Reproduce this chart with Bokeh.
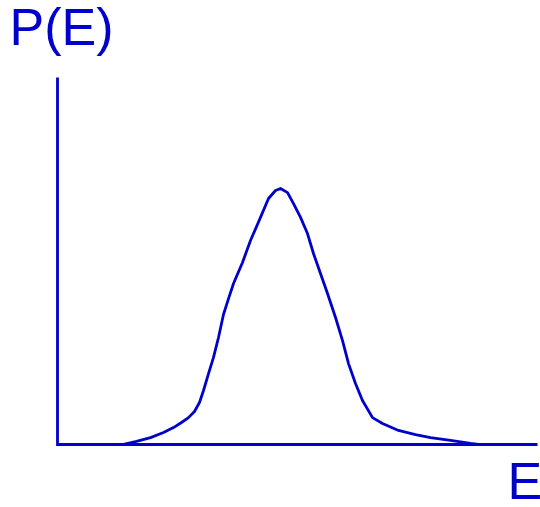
from bokeh.plotting import figure
from bokeh.models import Range1d
from bokeh.core.properties import value
from bokeh.embed import file_html
from bokeh.resources import INLINE

# Curve: energy E and probability P(E)
energy = [1.354, 1.646, 1.938, 2.208, 2.417, 2.583, 2.729, 2.854, 2.958, 3.042, 3.146, 3.25,
          3.354, 3.458, 3.563, 3.667, 3.854, 4.021, 4.229, 4.396, 4.542, 4.646, 4.792,
          4.917, 5.063, 5.208, 5.333, 5.479, 5.625, 5.792, 5.938, 6.063, 6.208, 6.354,
          6.563, 6.771, 7.104, 7.458, 7.771, 8.188, 8.604, 8.771]
prob = [0.0, 0.012, 0.027, 0.047, 0.066, 0.086, 0.105, 0.129, 0.164, 0.211, 0.277, 0.340,
        0.418, 0.508, 0.570, 0.629, 0.711, 0.797, 0.887, 0.961, 0.992, 1.0, 0.984,
        0.941, 0.887, 0.824, 0.746, 0.668, 0.590, 0.496, 0.406, 0.316, 0.238, 0.172,
        0.105, 0.082, 0.055, 0.039, 0.027, 0.016, 0.004, 0.0]

# Axis extents
axis_x = [0, 0, 10]
axis_y = [1.434, 0, 0]

y_label = "P(E)"
x_label = "E"

BLUE = "#0000CC"

p = figure(width=540, height=507, output_backend="svg", toolbar_location=None,
           x_range=Range1d(-57 / 48, 483 / 48), y_range=Range1d(-63 / 256, 444 / 256),
           min_border=0)
p.axis.visible = False
p.grid.visible = False
p.outline_line_color = None
p.background_fill_color = "white"
p.border_fill_color = "white"

p.line(axis_x, axis_y, line_color=BLUE, line_width=2.8, line_join="miter", line_cap="butt")
p.line(energy, prob, line_color=BLUE, line_width=2.8, line_join="round", line_cap="round")

p.text(x=[-1.0], y=[1.629], text=[y_label], text_color=BLUE, text_font=value("Liberation Sans"),
       text_font_size="52px", text_baseline="alphabetic", text_align="left")
p.text(x=[(507 - 57) / 48], y=[-0.144], text=[x_label], text_color=BLUE,
       text_font=value("Liberation Sans"), text_font_size="52px",
       text_baseline="alphabetic", text_align="left")

open("out.html", "w").write(file_html(p, INLINE))
